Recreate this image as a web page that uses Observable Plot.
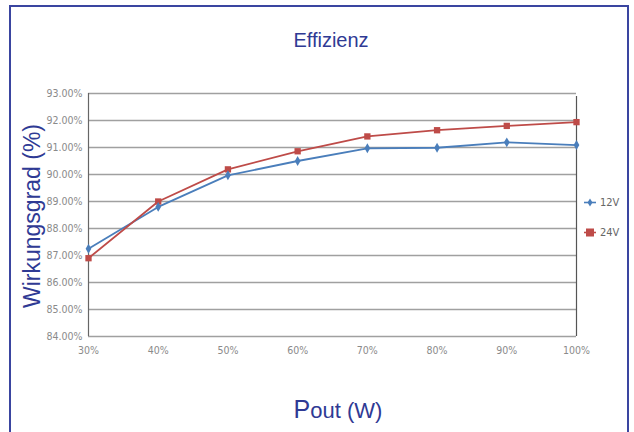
<!DOCTYPE html>
<html>
<head>
<meta charset="utf-8">
<script src="https://cdn.jsdelivr.net/npm/d3@7"></script>
<script src="https://cdn.jsdelivr.net/npm/@observablehq/plot@0.6"></script>
<style>
  html, body { margin: 0; padding: 0; background: #fff; }
  #wrap { position: relative; width: 634px; height: 432px; overflow: hidden; font-family: "Liberation Sans", Arial, sans-serif; }
  #frame { position: absolute; left: 9px; top: 5px; width: 620px; height: 460px; border: 2px solid #3a45a0; box-sizing: border-box; }
  #chart { position: absolute; left: 0; top: 0; }
  #labels { position: absolute; left: 0; top: 0; pointer-events: none; }
  #legend { position: absolute; left: 584px; top: 195px; font-family: "Liberation Sans Narrow", "DejaVu Sans Condensed", sans-serif; font-size: 11px; color: #666; }
  #legend .item { display: flex; align-items: center; height: 15px; margin-bottom: 15px; }
  #legend svg { margin-right: 4px; }
</style>
</head>
<body>
<div id="wrap">
  <div id="chart"></div>
  <div id="frame"></div>
  <svg id="labels" width="634" height="432" font-family="Liberation Sans, Arial, sans-serif" fill="#2f3a94">
    <text x="331" y="47" text-anchor="middle" font-size="20">Effizienz</text>
    <text transform="translate(40,216) rotate(-90)" text-anchor="middle" font-size="23">Wirkungsgrad (%)</text>
    <text x="338" y="418" text-anchor="middle" font-size="22"><tspan font-size="25">P</tspan>out (W)</text>
  </svg>
  <div id="legend"></div>
</div>
<script>
const loads = [30, 40, 50, 60, 70, 80, 90, 100];
const eff12V = [87.25, 88.8, 89.97, 90.5, 90.97, 90.99, 91.19, 91.09];
const eff24V = [86.9, 89.0, 90.19, 90.86, 91.41, 91.64, 91.8, 91.94];
const seriesNames = ["12V", "24V"];
const seriesColors = ["#4a7ebb", "#be4b48"];
const seriesSymbols = ["diamond", "square"];
const yTicks = [84, 85, 86, 87, 88, 89, 90, 91, 92, 93];

const data = [];
loads.forEach((x, i) => {
  data.push({ load: x, eff: eff12V[i], series: "12V" });
  data.push({ load: x, eff: eff24V[i], series: "24V" });
});

const tickFont = '"Liberation Sans Narrow", "DejaVu Sans Condensed", sans-serif';

const chart = Plot.plot({
  width: 634,
  height: 432,
  marginLeft: 88,
  marginRight: 58,
  marginTop: 93,
  marginBottom: 96,
  style: { fontFamily: tickFont, fontSize: "10.5px", color: "#777", background: "transparent" },
  x: { domain: [30, 100], label: null },
  y: { domain: [84, 93], label: null },
  color: { domain: seriesNames, range: seriesColors },
  symbol: { domain: seriesNames, range: seriesSymbols },
  marks: [
    Plot.gridY(yTicks, { stroke: "#a0a0a0", strokeOpacity: 1, strokeWidth: 1.4 }),
    Plot.ruleX([30], { stroke: "#666", strokeWidth: 1.2 }),
    Plot.ruleX([100], { stroke: "#555", strokeWidth: 1.2, y1: 84, y2: 93, insetBottom: -3 }),
    Plot.axisX({ ticks: loads, tickFormat: d => d + "%", tickSize: 0, tickPadding: 10, fill: "#8a8a8a", label: null }),
    Plot.axisY({ ticks: yTicks, tickFormat: d => d.toFixed(2) + "%", tickSize: 0, tickPadding: 6, fill: "#8a8a8a", label: null }),
    Plot.line(data, { x: "load", y: "eff", z: "series", stroke: "series", strokeWidth: 1.8 }),
    Plot.dot(data, { x: "load", y: "eff", symbol: "series", fill: "series", stroke: "none", r: d => d.series === "24V" ? 4.8 : 3.4 })
  ]
});
document.getElementById("chart").appendChild(chart);

const legend = document.getElementById("legend");
seriesNames.forEach((name, i) => {
  const item = document.createElement("div");
  item.className = "item";
  const c = seriesColors[i];
  const marker = i === 0
    ? `<path d="M6,3.5 L8.5,7.5 L6,11.5 L3.5,7.5 Z" fill="${c}"/>`
    : `<rect x="2" y="3.5" width="8" height="8" fill="${c}"/>`;
  item.innerHTML = `<svg width="12" height="15" viewBox="0 0 12 15"><line x1="0" y1="7.5" x2="12" y2="7.5" stroke="${c}" stroke-width="1.6"/>${marker}</svg><span>${name}</span>`;
  legend.appendChild(item);
});
</script>
</body>
</html>
